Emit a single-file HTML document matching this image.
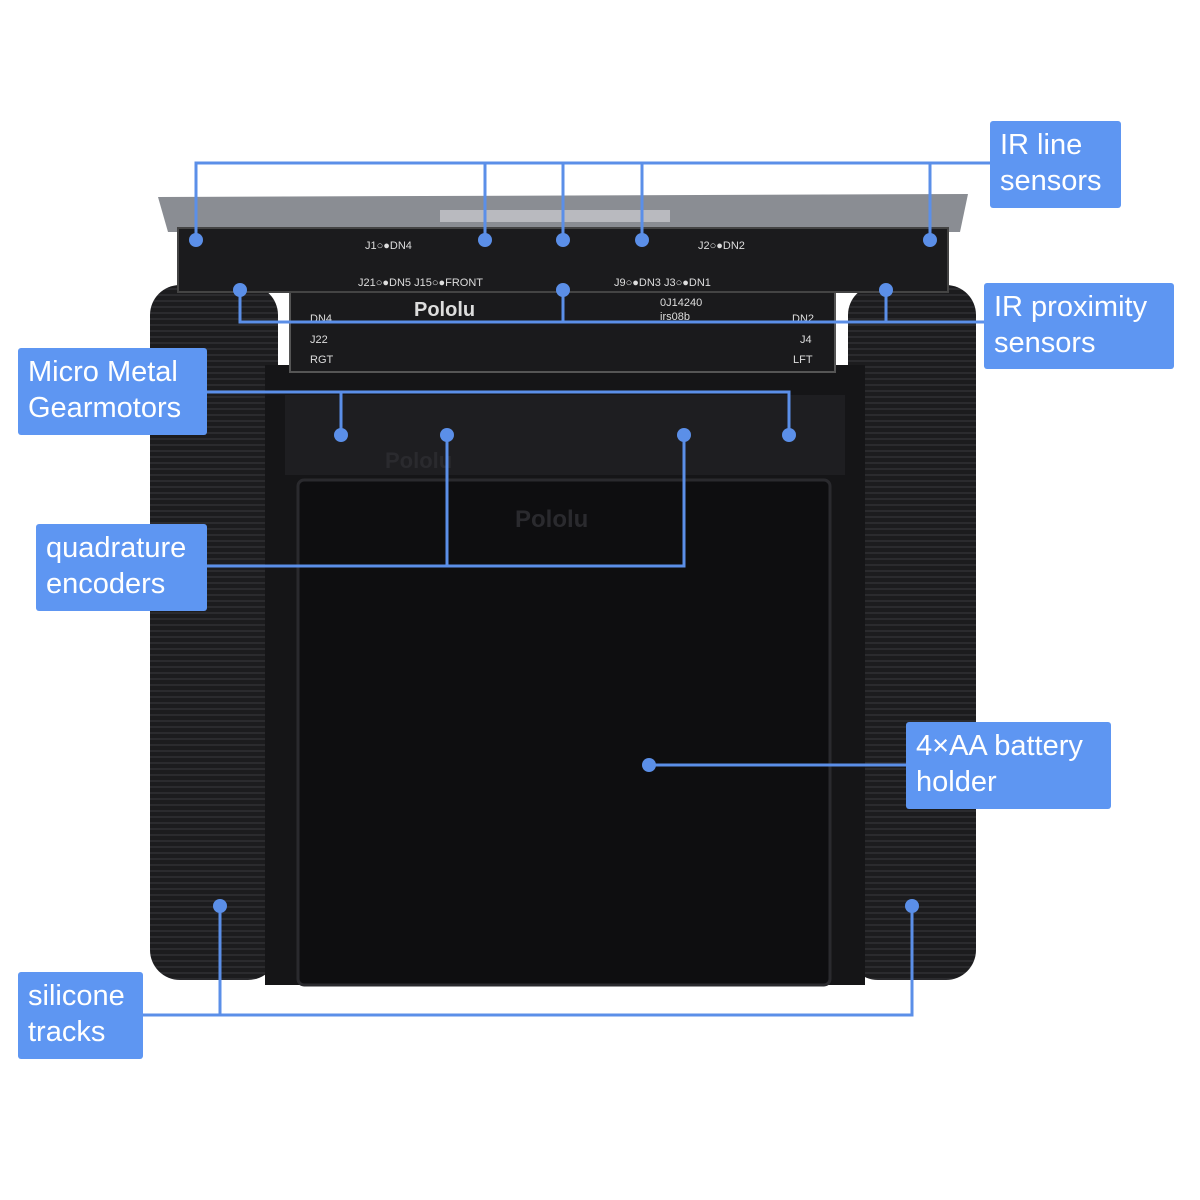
<!DOCTYPE html>
<html><head><meta charset="utf-8"><style>
html,body{margin:0;padding:0;background:#fff;}
body{width:1200px;height:1200px;position:relative;overflow:hidden;font-family:"Liberation Sans",sans-serif;}
.lbl{position:absolute;background:#5e96f2;color:#fff;font-size:29px;line-height:36px;padding:6px 10px;box-sizing:border-box;border-radius:3px;}
</style></head><body>
<svg width="1200" height="1200" style="position:absolute;left:0;top:0">
<defs>
<pattern id="tr" width="6" height="6" patternUnits="userSpaceOnUse"><rect width="6" height="6" fill="#1c1c1e"/><rect width="6" height="2" fill="#2b2b2e"/></pattern>
</defs>
<!-- metal plate -->
<polygon points="158,197 968,194 960,232 168,232" fill="#8a8d93"/>
<rect x="440" y="210" width="230" height="12" fill="#d8d8dc" opacity="0.6"/>
<!-- tracks -->
<rect x="150" y="285" width="128" height="695" rx="30" fill="url(#tr)"/>
<rect x="848" y="285" width="128" height="695" rx="30" fill="url(#tr)"/>
<!-- chassis -->
<rect x="265" y="365" width="600" height="620" fill="#151517"/>
<rect x="285" y="395" width="560" height="80" fill="#1e1e21"/>
<!-- battery holder -->
<rect x="298" y="480" width="532" height="505" rx="6" fill="#0e0e10" stroke="#2a2a2e" stroke-width="3"/>
<text x="515" y="527" font-size="24" fill="#2a2a2e" font-family="Liberation Sans" font-weight="bold">Pololu</text>
<text x="385" y="468" font-size="22" fill="#2a2a2e" font-family="Liberation Sans" font-weight="bold">Pololu</text>
<!-- PCBs -->
<rect x="290" y="290" width="545" height="82" fill="#1a1a1c" stroke="#555" stroke-width="2"/>
<rect x="178" y="228" width="770" height="64" fill="#1b1b1d" stroke="#444" stroke-width="2"/>
<g font-family="Liberation Sans" font-size="11" fill="#ddd">
<text x="365" y="249">J1○●DN4</text><text x="698" y="249">J2○●DN2</text>
<text x="358" y="286">J21○●DN5 J15○●FRONT</text><text x="614" y="286">J9○●DN3 J3○●DN1</text>
<text x="310" y="322">DN4</text><text x="310" y="343">J22</text><text x="310" y="363">RGT</text>
<text x="792" y="322">DN2</text><text x="800" y="343">J4</text><text x="793" y="363">LFT</text>
<text x="660" y="306">0J14240</text><text x="660" y="320">irs08b</text>
<text x="414" y="316" font-size="20" font-weight="bold">Pololu</text>
</g>
<g fill="none" stroke="#5b8fe8" stroke-width="3">
<polyline points="196,240 196,163 990,163"/><line x1="485" y1="163" x2="485" y2="240"/><line x1="563" y1="163" x2="563" y2="240"/><line x1="642" y1="163" x2="642" y2="240"/><line x1="930" y1="163" x2="930" y2="240"/>
<polyline points="240,290 240,322 984,322"/><line x1="563" y1="290" x2="563" y2="322"/><line x1="886" y1="290" x2="886" y2="322"/>
<polyline points="206,392 789,392 789,435"/><line x1="341" y1="392" x2="341" y2="435"/>
<polyline points="206,566 684,566 684,435"/><line x1="447" y1="566" x2="447" y2="435"/>
<line x1="649" y1="765" x2="906" y2="765"/>
<polyline points="142,1015 912,1015 912,906"/><line x1="220" y1="1015" x2="220" y2="906"/>
</g>
<g fill="#5b8fe8">
<circle cx="196" cy="240" r="7"/><circle cx="485" cy="240" r="7"/><circle cx="563" cy="240" r="7"/><circle cx="642" cy="240" r="7"/><circle cx="930" cy="240" r="7"/>
<circle cx="240" cy="290" r="7"/><circle cx="563" cy="290" r="7"/><circle cx="886" cy="290" r="7"/>
<circle cx="341" cy="435" r="7"/><circle cx="789" cy="435" r="7"/><circle cx="447" cy="435" r="7"/><circle cx="684" cy="435" r="7"/>
<circle cx="649" cy="765" r="7"/><circle cx="220" cy="906" r="7"/><circle cx="912" cy="906" r="7"/>
</g>
</svg>
<div class="lbl" style="left:990px;top:121px;width:131px;height:87px;">IR line<br>sensors</div>
<div class="lbl" style="left:984px;top:283px;width:190px;height:86px;">IR proximity<br>sensors</div>
<div class="lbl" style="left:18px;top:348px;width:189px;height:87px;">Micro Metal<br>Gearmotors</div>
<div class="lbl" style="left:36px;top:524px;width:171px;height:87px;">quadrature<br>encoders</div>
<div class="lbl" style="left:906px;top:722px;width:205px;height:87px;">4×AA battery<br>holder</div>
<div class="lbl" style="left:18px;top:972px;width:125px;height:87px;">silicone<br>tracks</div>
</body></html>
